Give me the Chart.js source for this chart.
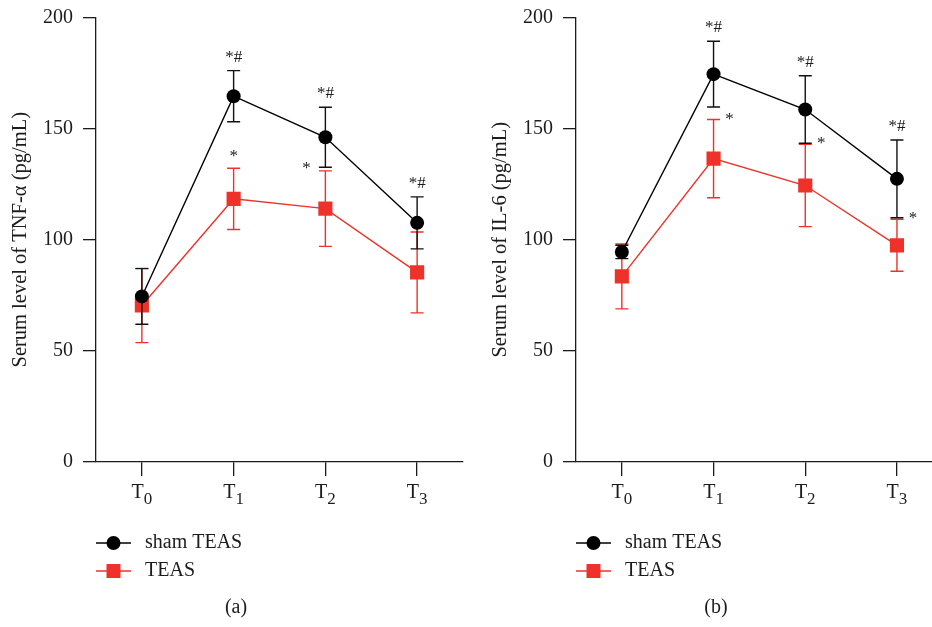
<!DOCTYPE html>
<html><head><meta charset="utf-8">
<script src="https://cdn.jsdelivr.net/npm/chart.js@4.4.0/dist/chart.umd.min.js"></script>
<style>
html,body{margin:0;padding:0;background:#fff;width:932px;height:627px;overflow:hidden;position:relative}
.w{position:absolute;top:0;height:627px}
</style></head><body>
<div class="w" style="left:0;width:466px"><canvas id="ca" width="466" height="627"></canvas></div>
<div class="w" style="left:466px;width:480px"><canvas id="cb" width="480" height="627"></canvas></div>
<script>
// ---- data ----
// categories: letter + subscript index (T0 = T with subscript 0)
const categories = ['T0', 'T1', 'T2', 'T3'];
const seriesNames = ['sham TEAS', 'TEAS'];
const tnfSham   = [74.5, 164.6, 146.1, 107.6];
const tnfShamSD = [12.5, 11.5, 13.5, 11.7];
const tnfTeas   = [70.4, 118.4, 114.0, 85.3];
const tnfTeasSD = [16.7, 13.8, 17.0, 18.2];
const il6Sham   = [94.5, 174.5, 158.6, 127.4];
const il6ShamSD = [3.0, 14.8, 15.2, 17.5];
const il6Teas   = [83.5, 136.5, 124.4, 97.5];
const il6TeasSD = [14.6, 17.6, 18.5, 11.7];
const tnfShamMarks = ['', '*#', '*#', '*#'];
const tnfTeasMarks = ['', '*', '*', ''];
const il6ShamMarks = ['', '*#', '*#', '*#'];
const il6TeasMarks = ['', '*', '*', '*'];
// placement of significance marks for the TEAS series
const tnfTeasSide = ['', 'above', 'left', ''];
const il6TeasSide = ['', 'right', 'right', 'right'];

const FONT = '"Liberation Serif", "Times New Roman", serif';
const INK = '#1c1c1c';
const RED = '#ee3229';

const errorPlugin = {
  id: 'errbars',
  beforeDatasetDraw(chart, args) {
    const ds = chart.data.datasets[args.index];
    const ys = chart.scales.y, ctx = chart.ctx;
    ctx.save();
    ctx.strokeStyle = ds.errColor; ctx.lineWidth = 1.4;
    args.meta.data.forEach((pt, i) => {
      const v = ds.data[i], e = ds.sd[i];
      const yt = ys.getPixelForValue(v + e), yb = ys.getPixelForValue(v - e), x = pt.x;
      ctx.beginPath();
      ctx.moveTo(x, yt); ctx.lineTo(x, yb);
      ctx.moveTo(x - 6.5, yt); ctx.lineTo(x + 6.5, yt);
      ctx.moveTo(x - 6.5, yb); ctx.lineTo(x + 6.5, yb);
      ctx.stroke();
    });
    ctx.restore();
  },
  afterDatasetsDraw(chart) {
    const ctx = chart.ctx, ys = chart.scales.y;
    ctx.save();
    ctx.fillStyle = INK;
    ctx.font = '17px ' + FONT;
    ctx.textAlign = 'center';
    ctx.textBaseline = 'alphabetic';
    chart.data.datasets.forEach((ds, di) => {
      const meta = chart.getDatasetMeta(di);
      meta.data.forEach((pt, i) => {
        const m = ds.marks[i];
        if (!m) return;
        const top = ys.getPixelForValue(ds.data[i] + ds.sd[i]);
        const side = ds.sides ? ds.sides[i] : 'above';
        if (side === 'above') {
          ctx.fillText(m, pt.x, top - (m.length > 1 ? 9 : 7));
        } else if (side === 'left') {
          ctx.fillText(m, pt.x - 19, top + 2);
        } else {
          ctx.fillText(m, pt.x + 16, top + 4);
        }
      });
    });
    ctx.restore();
  }
};

// x tick labels: letter with a lowered subscript index
const subLabelPlugin = {
  id: 'subLabels',
  afterDraw(chart) {
    const ctx = chart.ctx, xs = chart.scales.x;
    ctx.save();
    ctx.fillStyle = INK;
    ctx.textBaseline = 'alphabetic';
    ctx.textAlign = 'left';
    chart.data.labels.forEach((lab, i) => {
      const x = xs.getPixelForTick(i);
      const base = lab.slice(0, 1), sub = lab.slice(1);
      ctx.font = '20px ' + FONT;
      const wb = ctx.measureText(base).width;
      ctx.font = '17px ' + FONT;
      const ws = ctx.measureText(sub).width;
      const x0 = x - (wb + ws) / 2;
      ctx.font = '20px ' + FONT;
      ctx.fillText(base, x0, xs.top + 36);
      ctx.font = '17px ' + FONT;
      ctx.fillText(sub, x0 + wb, xs.top + 42);
    });
    ctx.restore();
  }
};

const legendPlugin = {
  id: 'legendSketch',
  afterDraw(chart) {
    const ctx = chart.ctx, L = chart.chartArea.left;
    chart.data.datasets.forEach((ds, i) => {
      const y = 543 + i * 28;
      ctx.save();
      ctx.strokeStyle = ds.borderColor; ctx.lineWidth = 1.4;
      ctx.beginPath(); ctx.moveTo(L, y); ctx.lineTo(L + 35, y); ctx.stroke();
      ctx.fillStyle = ds.pointBackgroundColor;
      if (ds.pointStyle === 'rect') {
        ctx.fillRect(L + 17.5 - 7, y - 7, 14, 14);
      } else {
        ctx.beginPath(); ctx.arc(L + 17.5, y, 7, 0, Math.PI * 2); ctx.fill();
      }
      ctx.fillStyle = INK;
      ctx.font = '20px ' + FONT;
      ctx.textBaseline = 'middle';
      ctx.textAlign = 'left';
      ctx.fillText(ds.label, L + 49, y);
      ctx.restore();
    });
    ctx.save();
    ctx.fillStyle = INK; ctx.font = '20px ' + FONT;
    ctx.textAlign = 'center'; ctx.textBaseline = 'middle';
    ctx.fillText(chart.options.plugins.caption.text, L + 140, 608);
    ctx.restore();
  }
};

function makeChart(id, title, sham, shamSD, teas, teasSD, shamMarks, teasMarks, teasSides, caption, padL, padR) {
  return new Chart(document.getElementById(id), {
    type: 'line',
    data: {
      labels: categories,
      datasets: [
        { label: seriesNames[0], data: sham, sd: shamSD, marks: shamMarks,
          borderColor: '#000', borderWidth: 1.4, errColor: '#111',
          pointStyle: 'circle', pointRadius: 7, pointHoverRadius: 7,
          pointBackgroundColor: '#000', pointBorderWidth: 0, tension: 0 },
        { label: seriesNames[1], data: teas, sd: teasSD, marks: teasMarks, sides: teasSides,
          borderColor: RED, borderWidth: 1.4, errColor: RED,
          pointStyle: 'rect', pointRadius: 10, pointHoverRadius: 10,
          pointBackgroundColor: RED, pointBorderWidth: 0, tension: 0 }
      ]
    },
    options: {
      responsive: false, animation: false, devicePixelRatio: 1,
      layout: { autoPadding: false, padding: { top: 17.5, left: padL, right: padR, bottom: 0 } },
      plugins: { legend: { display: false }, tooltip: { enabled: false }, caption: { text: caption } },
      scales: {
        x: {
          type: 'category', offset: true,
          grid: { drawOnChartArea: false, drawTicks: true, tickLength: 14, color: INK, lineWidth: 1.3 },
          border: { display: true, color: INK, width: 1.3 },
          ticks: { display: false },
          afterFit: s => { s.height = 165; s.paddingLeft = 0; s.paddingRight = 0; }
        },
        y: {
          min: 0, max: 200,
          grid: { drawOnChartArea: false, drawTicks: true, tickLength: 13, color: INK, lineWidth: 1.3 },
          border: { display: true, color: INK, width: 1.3 },
          ticks: { stepSize: 50, font: { family: FONT, size: 20 }, color: INK, padding: 10 },
          title: { display: true, text: title, font: { family: FONT, size: 20.5 }, color: INK, padding: { top: 8, bottom: 0 } },
          afterFit: s => { s.width = 96; s.paddingTop = 0; s.paddingBottom = 0; }
        }
      }
    },
    plugins: [errorPlugin, subLabelPlugin, legendPlugin]
  });
}

makeChart('ca', 'Serum level of TNF-α (pg/mL)', tnfSham, tnfShamSD, tnfTeas, tnfTeasSD,
  tnfShamMarks, tnfTeasMarks, tnfTeasSide, '(a)', 0, 3);
makeChart('cb', 'Serum level of IL-6 (pg/mL)', il6Sham, il6ShamSD, il6Teas, il6TeasSD,
  il6ShamMarks, il6TeasMarks, il6TeasSide, '(b)', 14, 3.2);
</script>
</body></html>
